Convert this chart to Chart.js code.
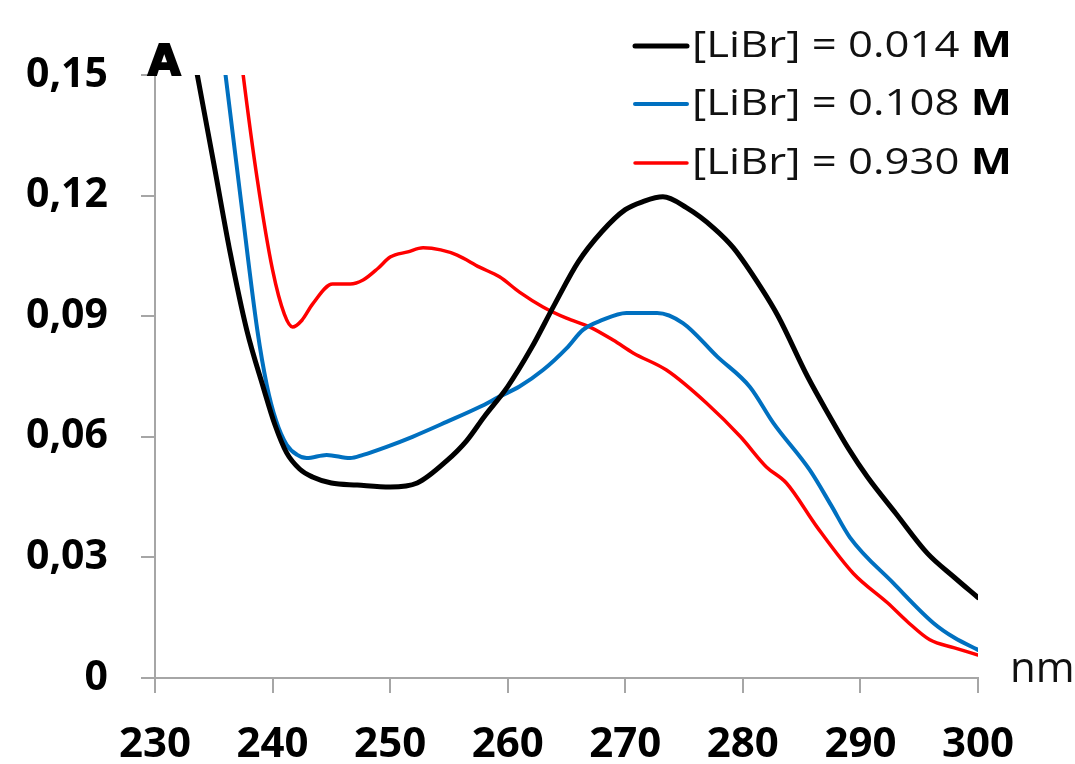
<!DOCTYPE html>
<html>
<head>
<meta charset="utf-8">
<script src="https://cdn.jsdelivr.net/npm/chart.js@4/dist/chart.umd.min.js"></script>
<style>
html,body{margin:0;padding:0;background:#fff;}
#wrap{width:1075px;height:764px;position:relative;}
</style>
</head>
<body>
<div id="wrap"><canvas id="c" width="1075" height="764"></canvas></div>
<script>
// Wavelength (nm) and absorbance readings for each series
const wlBlack = [232.6, 233.6, 235.0, 236.4, 237.8, 239.2, 240.2, 241.2, 242.3, 243.4, 245.0, 247.2, 250.0, 252.3, 254.8, 256.5, 258.0, 260.0, 262.0, 264.0, 266.0, 268.0, 270.0, 271.5, 273.2, 275.2, 277.5, 279.2, 281.5, 283.0, 285.5, 287.4, 289.0, 290.6, 293.0, 295.7, 298.0, 300.0];
const absBlack = [0.166, 0.150, 0.128, 0.1057, 0.0866, 0.0724, 0.063, 0.056, 0.052, 0.050, 0.0485, 0.048, 0.0475, 0.0485, 0.054, 0.059, 0.065, 0.0725, 0.082, 0.093, 0.1035, 0.111, 0.1165, 0.1185, 0.1197, 0.117, 0.112, 0.107, 0.0973, 0.090, 0.075, 0.065, 0.057, 0.050, 0.041, 0.031, 0.025, 0.020];

const wlBlue = [235.6, 236.0, 237.3, 238.7, 239.5, 240.3, 241.2, 242.1, 242.9, 244.6, 246.6, 247.7, 249.7, 251.9, 254.8, 257.6, 259.3, 261.0, 263.0, 265.0, 266.4, 268.0, 270.1, 272.7, 274.9, 277.8, 280.6, 282.6, 285.7, 287.5, 289.1, 292.8, 296.2, 298.0, 300.0];
const absBlue = [0.160, 0.150, 0.119, 0.0866, 0.073, 0.064, 0.058, 0.0555, 0.0547, 0.0555, 0.0547, 0.0555, 0.0575, 0.060, 0.0637, 0.0674, 0.070, 0.0725, 0.0766, 0.082, 0.0866, 0.089, 0.0908, 0.0908, 0.0883, 0.080, 0.0724, 0.0634, 0.0517, 0.043, 0.035, 0.0236, 0.0137, 0.010, 0.007];

const wlRed = [237.1, 237.5, 238.7, 240.0, 241.0, 241.7, 242.5, 243.4, 245.1, 246.6, 247.7, 249.0, 250.0, 251.5, 252.8, 254.3, 255.7, 257.6, 259.3, 261.0, 263.0, 265.0, 267.0, 269.0, 270.7, 273.5, 276.9, 279.8, 282.0, 283.7, 286.3, 289.4, 292.3, 294.0, 295.9, 298.0, 300.0];
const absRed = [0.160, 0.150, 0.124, 0.1015, 0.0905, 0.0873, 0.089, 0.093, 0.098, 0.098, 0.099, 0.102, 0.1047, 0.106, 0.107, 0.1065, 0.1052, 0.1022, 0.0998, 0.096, 0.0923, 0.0895, 0.0873, 0.084, 0.0808, 0.0766, 0.0684, 0.060, 0.0525, 0.0485, 0.0376, 0.026, 0.0187, 0.014, 0.0095, 0.0075, 0.0057];

const seriesLabels = ['[LiBr] = 0.014 ', '[LiBr] = 0.108 ', '[LiBr] = 0.930 '];
const unitLabel = 'M';
const xTicks = [230, 240, 250, 260, 270, 280, 290, 300];
const yTicks = [0, 0.03, 0.06, 0.09, 0.12, 0.15];

function pts(xs, ys){ return xs.map((x,i)=>({x:x, y:ys[i]})); }

const colors = ['#000000', '#0070C0', '#FF0000'];
const widths = [5, 4, 3.5];

const extras = {
  id: 'extras',
  afterDraw(chart){
    const ctx = chart.ctx;
    ctx.save();
    // Panel letter
    ctx.fillStyle = '#000';
    ctx.strokeStyle = '#000';
    ctx.lineWidth = 2;
    ctx.font = 'bold 42px "DejaVu Sans"';
    ctx.textBaseline = 'alphabetic';
    ctx.textAlign = 'left';
    ctx.fillText('A', 148, 75);
    ctx.strokeText('A', 148, 75);
    // axis unit
    ctx.fillStyle = '#111';
    ctx.font = '42px "Open Sans"';
    ctx.fillText('nm', 1010, 682);
    // legend
    const rowsY = [46, 104, 163];
    chart.data.datasets.forEach((ds, i) => {
      const y = rowsY[i];
      ctx.strokeStyle = ds.borderColor;
      ctx.lineWidth = widths[i];
      ctx.lineCap = 'round';
      ctx.beginPath();
      ctx.moveTo(635, y); ctx.lineTo(687, y);
      ctx.stroke();
      ctx.fillStyle = '#111';
      ctx.textBaseline = 'middle';
      ctx.font = '36px "Open Sans"';
      const w1 = ctx.measureText(seriesLabels[i]).width;
      ctx.font = 'bold 36px "Open Sans"';
      const w2 = ctx.measureText(unitLabel).width;
      const target = 1012 - 692;
      const sx = target / (w1 + w2);
      ctx.save();
      ctx.translate(692, y + 1);
      ctx.scale(sx, 1);
      ctx.font = '36px "Open Sans"';
      ctx.fillText(seriesLabels[i], 0, 0);
      ctx.font = 'bold 36px "Open Sans"';
      ctx.fillStyle = '#000';
      ctx.fillText(unitLabel, w1, 0);
      ctx.restore();
    });
    ctx.restore();
  }
};

new Chart(document.getElementById('c'), {
  type: 'line',
  data: {
    datasets: [
      {label: seriesLabels[0] + unitLabel, data: pts(wlBlack, absBlack), borderColor: colors[0], borderWidth: widths[0]},
      {label: seriesLabels[1] + unitLabel, data: pts(wlBlue, absBlue), borderColor: colors[1], borderWidth: widths[1]},
      {label: seriesLabels[2] + unitLabel, data: pts(wlRed, absRed), borderColor: colors[2], borderWidth: widths[2]}
    ].map(d => Object.assign(d, {pointRadius: 0, fill: false, cubicInterpolationMode: 'monotone', borderCapStyle: 'round', borderJoinStyle: 'round'}))
  },
  options: {
    responsive: false,
    animation: false,
    devicePixelRatio: 1,
    layout: {padding: {left: 0, top: 75, right: 97, bottom: 0}},
    plugins: {legend: {display: false}, tooltip: {enabled: false}},
    scales: {
      x: {
        type: 'linear', min: 230, max: 300,
        afterFit: s => { s.height = 86; },
        afterBuildTicks: s => { s.ticks = xTicks.map(v => ({value: v})); },
        border: {color: '#a6a6a6', width: 2},
        grid: {drawOnChartArea: false, drawTicks: true, tickLength: 15, color: '#a6a6a6', lineWidth: 2},
        ticks: {color: '#000', padding: 27, font: {family: 'Open Sans', weight: 'bold', size: 42}, maxRotation: 0, autoSkip: false}
      },
      y: {
        min: 0, max: 0.15,
        afterFit: s => { s.width = 155; },
        afterBuildTicks: s => { s.ticks = yTicks.map(v => ({value: v})); },
        border: {color: '#a6a6a6', width: 2},
        grid: {drawOnChartArea: false, drawTicks: true, tickLength: 14, color: '#a6a6a6', lineWidth: 2},
        ticks: {color: '#000', padding: 33, font: {family: 'Open Sans', weight: 'bold', size: 41},
          callback: v => v === 0 ? '0' : v.toFixed(2).replace('.', ',')}
      }
    }
  },
  plugins: [extras]
});
</script>
</body>
</html>
